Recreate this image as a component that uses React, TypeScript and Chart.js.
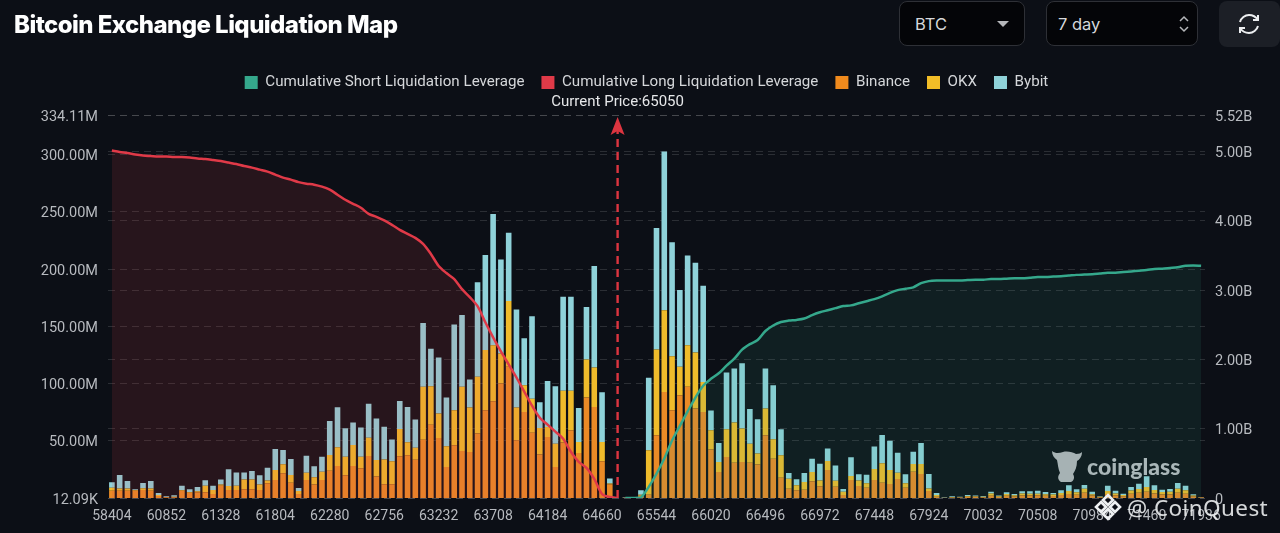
import React, { useEffect, useRef } from "react";
import { Chart, registerables } from "chart.js";
Chart.register(...registerables);

const categories = [58404,60444,60512,60580,60648,60716,60784,60852,60920,60988,61056,61124,61192,61260,61328,61396,61464,61532,61600,61668,61736,61804,61872,61940,62008,62076,62144,62212,62280,62348,62416,62484,62552,62620,62688,62756,62824,62892,62960,63028,63096,63164,63232,63300,63368,63436,63504,63572,63640,63708,63776,63844,63912,63980,64048,64116,64184,64252,64320,64388,64456,64524,64592,64660,64728,65050,65272,65340,65408,65476,65544,65612,65680,65748,65816,65884,65952,66020,66088,66156,66224,66292,66360,66428,66496,66564,66632,66700,66768,66836,66904,66972,67040,67108,67176,67244,67312,67380,67448,67516,67584,67652,67720,67788,67856,67924,69624,69692,69760,69828,69896,69964,70032,70100,70168,70236,70304,70372,70440,70508,70576,70644,70712,70780,70848,70916,70984,71052,71120,71188,71256,71324,71392,71460,71528,71596,71664,71732,71800,71868,71936];

const binance = [6.4,6.4,6.4,6.4,7,6.4,1.7,0.6,0.6,6.4,4.7,5,5,3.5,10.8,7,7,7.6,7.6,7,12.8,15.7,21.6,13.4,3.5,15.7,11.7,15.7,23.9,28,19.8,28,25.9,36.7,18.7,12,12,36.4,37.3,33.5,51,64.1,52.5,27.1,46.1,41.1,40.2,56.3,76.7,84.5,100,114.6,50.4,75.2,57.1,37.9,53.4,27.1,48.4,59.2,39.4,87.8,79.6,32.1,12,0,0.2,0.3,2,2.9,54.8,92.7,76.7,89.8,97.1,78.1,75.2,42.3,22.7,35.9,30.9,31.5,30.9,29.2,54.8,34.4,17.8,8.2,6.7,7.3,14.6,10.2,24.5,9.9,2.6,15.7,10.5,9,15.7,13.4,12.2,16.6,9,23,21,6.1,1.2,0.2,0.5,0.4,1,1,0.6,2,0.9,1.9,1.3,2.2,2.3,2.5,2,1.8,2.6,3.6,2.8,4.5,2.1,0.6,3.6,2.4,1.5,3.8,4.6,5.5,4,3,3.1,4.6,3.8,1.3,0.4];
const okx = [2.6,2,2,0.6,1.5,2,0.9,0.3,0.6,0.6,0.6,0.9,5.8,3.5,0.9,3.5,3.8,8.5,8.5,4.7,2.6,8.7,7.9,6.7,2.6,6.4,6.4,7.3,13.7,16.3,16.3,18.4,10.2,16,14.6,21.6,20.1,23.9,11.4,10.5,46.1,33.5,21.3,18.1,30.6,56,38.8,49.6,52.5,49,26.2,57.4,28.6,23.3,29.7,23.3,8.7,20.4,45.2,34.4,9.6,33.2,34.4,16.9,0.6,0,0.1,0.1,0.9,38.8,74.9,71.4,47.1,24.8,36.4,49,26.2,16.9,8.7,24.2,35,29.2,16.6,9.6,23.3,16.9,19.5,8.7,4.4,6.7,8.2,5.2,7.9,5.2,2.9,3.5,4.7,3.8,9.6,16.9,12.2,5.5,3.8,6.7,8.7,2.3,1.5,0.1,0.4,0.3,0.7,0.5,0.5,2,0.6,1.5,1.1,1.8,1.4,1.3,1.3,1.2,1.8,2.6,2.2,3.6,1.2,0.4,2.5,1.6,1.1,2.8,3.2,4.2,3,2.2,2.3,3.4,2.9,1,0.2];
const bybit = [4.7,11.7,6.4,0.6,4.7,6.4,1.7,0.6,1.2,3.8,2.3,3.8,4.7,3.8,4.4,14.6,11.4,6.1,7.6,8.2,11.1,18.4,12.5,14,2.6,14.9,9.6,13.1,29.7,35,24.8,19.5,25.4,29.7,36.2,28.6,19,24.5,30.9,24.5,55.7,32.7,49,42.6,74.9,62.7,24.5,82.5,83.1,114.6,82.1,59.8,85.7,41.1,72,22.4,40.2,50.1,82.2,82.2,29.7,45.8,88.6,43.4,4.4,0,0.3,0.5,3.8,63.3,106.1,138.5,99.7,67.1,78.4,78.4,84,17.2,16.6,49.6,47.2,57.1,30.3,30,35,47.2,22.7,5,5.2,7.9,11.4,14.6,10.8,13.4,2.3,16.3,5.5,7.6,19.8,24.8,25.7,17.5,7.9,10.8,18.4,12.5,1.7,0.3,0.6,0.5,0.9,0.8,0.7,1.5,0.8,1.6,1.1,1.8,2.1,2.6,2,1.4,2.3,4.9,2.6,3.3,2.2,0.5,4.7,2.4,1.2,3,4.7,9.3,4.1,2.1,2.5,5.1,4.1,0.9,0.3];

const longLeverage = [5.014,4.993,4.978,4.957,4.942,4.935,4.928,4.928,4.92,4.92,4.913,4.899,4.891,4.877,4.862,4.841,4.819,4.79,4.768,4.739,4.71,4.667,4.623,4.594,4.558,4.536,4.522,4.493,4.449,4.377,4.304,4.246,4.188,4.101,4.058,4.007,3.942,3.87,3.812,3.754,3.667,3.522,3.348,3.246,3.159,3.014,2.899,2.768,2.536,2.319,2.116,1.928,1.739,1.536,1.333,1.159,1.058,0.957,0.855,0.667,0.522,0.435,0.275,0.058,0.014,0];
const shortLeverage = [0,0,0.01,0.16,0.35,0.57,0.83,1.04,1.25,1.45,1.62,1.72,1.8,1.91,2.01,2.14,2.22,2.28,2.41,2.49,2.54,2.56,2.57,2.59,2.64,2.68,2.71,2.74,2.77,2.78,2.81,2.84,2.87,2.91,2.96,3,3.02,3.04,3.1,3.13,3.14,3.14,3.14,3.14,3.145,3.15,3.15,3.16,3.16,3.165,3.17,3.17,3.18,3.19,3.19,3.195,3.2,3.21,3.22,3.225,3.23,3.24,3.25,3.25,3.26,3.27,3.28,3.29,3.305,3.31,3.32,3.33,3.35,3.355,3.35];

const leftTicks = [0.01209, 50, 100, 150, 200, 250, 300, 334.11];
const rightTicks = [0, 1, 2, 3, 4, 5, 5.52];
const currentPrice = 65050;
const tickEvery = 7;

const BG = "#0c0f16";
const GRID = "rgba(255,255,255,0.13)";
const TXT = "#b7babf";
const FONT = "Roboto";
const RED = "#e03a48";
const GREEN = "#35a88c";
const ORANGE = "#ea8a26";
const YELLOW = "#efbb2b";
const TEAL = "#8fd2d9";

const extras = {
  id: "extras",
  beforeLayout(chart: any) {
    if (chart.legend && !chart.legend.__p) {
      chart.legend.__p = true;
      const f = chart.legend.fit;
      chart.legend.fit = function () {
        f.call(this);
        this.height = 57.5;
      };
    }
  },
  afterDatasetsDraw(chart: any) {
    const { ctx, scales, chartArea } = chart;
    const x = scales.x.getPixelForValue(categories.indexOf(currentPrice));
    ctx.save();
    ctx.strokeStyle = "#dd3540";
    ctx.fillStyle = "#dd3540";
    ctx.lineWidth = 2.4;
    ctx.setLineDash([8, 5]);
    ctx.beginPath();
    ctx.moveTo(x, chartArea.bottom);
    ctx.lineTo(x, 130);
    ctx.stroke();
    ctx.setLineDash([]);
    ctx.beginPath();
    ctx.moveTo(x, 117);
    ctx.lineTo(x + 7, 135);
    ctx.lineTo(x, 131);
    ctx.lineTo(x - 7, 135);
    ctx.closePath();
    ctx.fill();
    ctx.fillStyle = "#e6e7e9";
    ctx.font = `400 15px ${FONT}`;
    ctx.textAlign = "center";
    ctx.textBaseline = "middle";
    ctx.fillText(`Current Price:${currentPrice}`, x, 102);
    ctx.restore();
  },
};

export default function App() {
  const ref = useRef<HTMLCanvasElement>(null);
  useEffect(() => {
    const pad = 75;
    const chart = new Chart(ref.current!, {
      type: "bar",
      plugins: [extras],
      data: {
        labels: categories.map(String),
        datasets: [
          {
            type: "line", label: "Cumulative Short Liquidation Leverage", yAxisID: "y1", order: 0,
            data: [...Array(66).fill(null), ...shortLeverage],
            borderColor: GREEN, backgroundColor: "rgba(53,168,140,0.11)", borderWidth: 2.5,
            pointRadius: 0, fill: "origin", tension: 0.3,
          },
          {
            type: "line", label: "Cumulative Long Liquidation Leverage", yAxisID: "y1", order: 0,
            data: [...longLeverage, ...Array(pad).fill(null)],
            borderColor: RED, backgroundColor: "rgba(224,58,72,0.13)", borderWidth: 2.5,
            pointRadius: 0, fill: "origin", tension: 0.3,
          },
          { label: "Binance", data: binance, backgroundColor: ORANGE, yAxisID: "y", order: 1, stack: "s", barPercentage: 0.72, categoryPercentage: 1 },
          { label: "OKX", data: okx, backgroundColor: YELLOW, yAxisID: "y", order: 1, stack: "s", barPercentage: 0.72, categoryPercentage: 1 },
          { label: "Bybit", data: bybit, backgroundColor: TEAL, yAxisID: "y", order: 1, stack: "s", barPercentage: 0.72, categoryPercentage: 1 },
        ] as any,
      },
      options: {
        responsive: false,
        animation: false,
        layout: { padding: { top: 58, left: 13, right: 0, bottom: 0 } },
        plugins: {
          tooltip: { enabled: false },
          legend: {
            position: "top",
            labels: {
              color: "#d5d7da",
              font: { family: FONT, size: 15.15 },
              boxWidth: 13,
              boxHeight: 13,
              padding: 17,
              generateLabels(c: any) {
                const solid = [GREEN, RED, "#f08a1d", "#f2bd27", TEAL];
                return c.data.datasets.map((d: any, i: number) => ({
                  text: d.label, fillStyle: solid[i], strokeStyle: solid[i], lineWidth: 0,
                  fontColor: "#d5d7da", datasetIndex: i, hidden: false,
                }));
              },
            },
          },
        },
        scales: {
          x: {
            stacked: true,
            grid: { display: false },
            border: { display: false },
            afterFit(s: any) { s.height = 35; },
            ticks: {
              autoSkip: false, maxRotation: 0, minRotation: 0, color: TXT, padding: 2,
              font: { family: FONT, size: 14 },
              callback: (_: any, i: number) => (i % tickEvery === 0 ? String(categories[i]) : ""),
            },
          },
          y: {
            stacked: true,
            position: "left",
            min: leftTicks[0],
            max: leftTicks[leftTicks.length - 1],
            afterFit(s: any) { s.width = 95; },
            afterBuildTicks(s: any) { s.ticks = leftTicks.map((value) => ({ value })); },
            grid: { color: GRID, drawTicks: false, tickLength: 0 },
            border: { display: false, dash: [7, 5] },
            ticks: {
              color: TXT, padding: 10, labelOffset: 2, font: { family: FONT, size: 14.5 },
              callback: (v: any) => (v < 1 ? `${(v * 1000).toFixed(2)}K` : `${Number(v).toFixed(2)}M`),
            },
          },
          y1: {
            position: "right",
            min: 0,
            max: rightTicks[rightTicks.length - 1],
            afterFit(s: any) { s.width = 75; },
            afterBuildTicks(s: any) { s.ticks = rightTicks.map((value) => ({ value })); },
            grid: { color: GRID, drawTicks: false, tickLength: 0 },
            border: { display: false, dash: [7, 5] },
            ticks: {
              color: TXT, padding: 10, labelOffset: 2, font: { family: FONT, size: 14.5 },
              callback: (v: any) => (v === 0 ? "0" : `${Number(v).toFixed(2)}B`),
            },
          },
        },
      } as any,
    });
    return () => chart.destroy();
  }, []);

  const box: React.CSSProperties = {
    position: "absolute", top: 1, height: 45, boxSizing: "border-box", background: "#040508",
    border: "1px solid #2e3036", borderRadius: 8, color: "#d6d8db", fontFamily: "Inter", fontSize: 16.5,
    display: "flex", alignItems: "center",
  };
  return (
    <div style={{ position: "fixed", left: 0, top: 0, width: 1280, height: 533, background: BG, overflow: "hidden" }}>
      <canvas ref={ref} width={1280} height={533} style={{ position: "absolute", left: 0, top: 0, width: 1280, height: 533 }} />
      <div style={{ position: "absolute", left: 14, top: 9, color: "#fff", fontFamily: "Inter", fontWeight: 800, fontSize: 24, letterSpacing: -0.55, whiteSpace: "nowrap", lineHeight: "32px" }}>
        Bitcoin Exchange Liquidation Map
      </div>
      <div style={{ ...box, left: 899, width: 126, paddingLeft: 15 }}>
        BTC
        <svg width="12" height="7" style={{ position: "absolute", left: 97, top: 19 }}><path d="M0 0H12L6 6Z" fill="#b5b7ba" /></svg>
      </div>
      <div style={{ ...box, left: 1046, width: 152, paddingLeft: 11 }}>
        7 day
        <svg width="12" height="18" style={{ position: "absolute", left: 131, top: 13 }} fill="none" stroke="#b5b7ba" strokeWidth="1.5"><path d="M2 6L6 2L10 6M2 12L6 16L10 12" /></svg>
      </div>
      <div style={{ position: "absolute", left: 1219, top: 1, width: 61, height: 46, background: "#1c1f26", borderRadius: 8 }}>
        <svg width="24" height="24" viewBox="0 0 24 24" style={{ position: "absolute", left: 18, top: 11 }} fill="none" stroke="#eceef0" strokeWidth="2">
          <path d="M3 10C4 6 8 3 12 3C16 3 19 5 21 8M21 14C20 18 16 21 12 21C8 21 5 19 3 16" />
          <path d="M21 3V8H16M3 21V16H8" />
        </svg>
      </div>
      <svg width="32" height="34" viewBox="0 0 32 34" style={{ position: "absolute", left: 1051, top: 449 }}>
        <path d="M1 2C5 5 8 4 12 3C16 2 22 3 25 5C28 5 30 4 31 3C31 8 28 11 26 12C26 18 24 22 22 25C24 28 23 32 20 33L10 33C7 31 6 28 9 24C7 20 7 15 6 11C3 9 1 6 1 2Z" fill="#a6b2b4" />
      </svg>
      <div style={{ position: "absolute", left: 1087, top: 452, color: "#a9b6b8", fontFamily: "Lato", fontWeight: 900, fontSize: 23, lineHeight: "28px" }}>coinglass</div>
      <svg width="28" height="28" viewBox="0 0 28 28" style={{ position: "absolute", left: 1094, top: 493 }} fill="none" stroke="#eef0f2" strokeWidth="2.6">
        <path d="M14 2L19 7L14 12L9 7ZM7 9L12 14L7 19L2 14ZM21 9L26 14L21 19L16 14ZM14 16L19 21L14 26L9 21Z" />
      </svg>
      <div style={{ position: "absolute", left: 1127, top: 491, color: "rgba(236,238,240,0.9)", fontFamily: "Noto Sans", fontSize: 22.5, letterSpacing: 0.4, lineHeight: "34px", whiteSpace: "nowrap" }}>@ CoinQuest</div>
    </div>
  );
}
